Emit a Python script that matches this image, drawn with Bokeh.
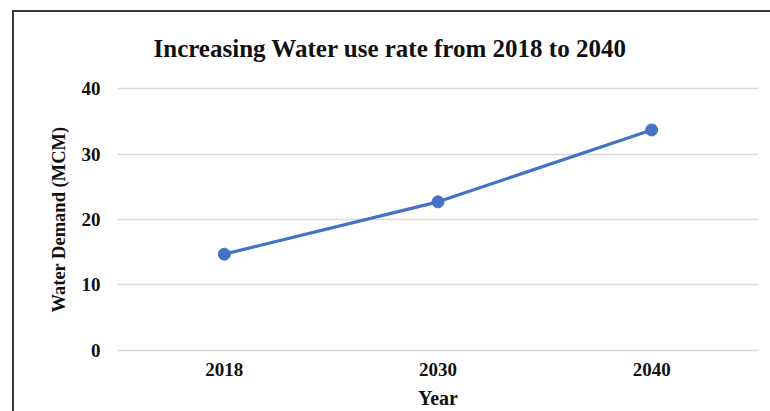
from bokeh.plotting import figure
from bokeh.models import FixedTicker, Range1d, FactorRange
from bokeh.embed import file_html
from bokeh.resources import INLINE

# Water demand projections (million cubic metres)
years = ["2018", "2030", "2040"]
demand = [14.7, 22.7, 33.7]
y_ticks = [0, 10, 20, 30, 40]

FONT = "'Liberation Serif', 'Times New Roman', serif"
BLUE = "#4472C4"
EDGE = "#3a3a3a"

p = figure(
    width=770, height=411,
    x_range=FactorRange(*years, range_padding=0),
    y_range=Range1d(-0.5, 40.5),
    output_backend="svg", toolbar_location=None,
    min_border_left=117, min_border_right=12,
    min_border_top=85, min_border_bottom=58,
    title="Increasing Water use rate from 2018 to 2040",
)
p.outline_line_color = None
p.background_fill_color = "white"
p.border_fill_color = None

# chart-area border (left and top edges) painted behind the transparent canvas
p.styles = {
    "background": (
        f"linear-gradient({EDGE},{EDGE}) 12px 10px / 2px 100% no-repeat, "
        f"linear-gradient({EDGE},{EDGE}) 12px 10px / 100% 2px no-repeat, "
        "white"
    ),
}

# title
p.title.text_font = FONT
p.title.text_font_style = "bold"
p.title.text_font_size = "25px"
p.title.text_color = "#111111"
p.title.align = "left"
p.title.offset = 36
p.title.standoff = 47

# series
p.line(years, demand, line_color=BLUE, line_width=3.2)
p.scatter(years, demand, size=12, fill_color=BLUE, line_color=BLUE)

# grid
p.xgrid.visible = False
p.ygrid.grid_line_color = "#D9D9D9"
p.ygrid.grid_line_width = 1.3
p.yaxis.ticker = FixedTicker(ticks=y_ticks)

for ax in (p.xaxis[0], p.yaxis[0]):
    ax.axis_line_color = None
    ax.major_tick_line_color = None
    ax.minor_tick_line_color = None
    ax.major_tick_in = 0
    ax.major_tick_out = 0
    ax.major_label_text_font = FONT
    ax.major_label_text_font_style = "bold"
    ax.major_label_text_font_size = "19px"
    ax.major_label_text_color = "#111111"
    ax.axis_label_text_font = FONT
    ax.axis_label_text_font_style = "bold"
    ax.axis_label_text_color = "#111111"

p.yaxis.major_label_standoff = 17
p.xaxis.major_label_standoff = 9
p.yaxis.axis_label = "Water Demand (MCM)"
p.yaxis.axis_label_text_font_size = "18.5px"
p.yaxis.axis_label_standoff = 10
p.xaxis.axis_label = "Year"
p.xaxis.axis_label_text_font_size = "20px"
p.xaxis.axis_label_standoff = 8

open("out.html", "w").write(file_html(p, INLINE))
